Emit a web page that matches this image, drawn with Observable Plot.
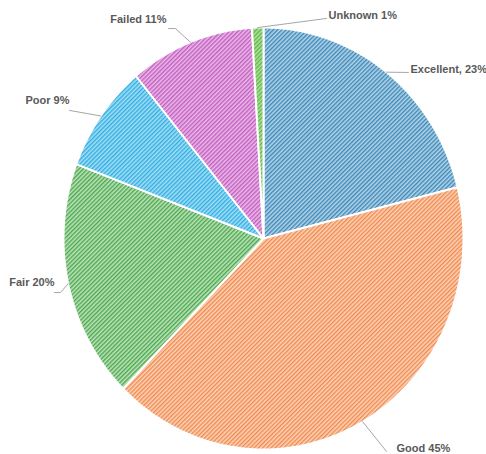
<!DOCTYPE html>
<html>
<head>
<meta charset="utf-8">
<script src="https://cdn.jsdelivr.net/npm/d3@7"></script>
<script src="https://cdn.jsdelivr.net/npm/@observablehq/plot@0.6"></script>
<style>
  html, body { margin: 0; padding: 0; background: #fff; }
  #chart svg { display: block; }
</style>
</head>
<body>
<div id="chart"></div>
<script>
// ---- data ----
const categories = ["Excellent", "Good", "Fair", "Poor", "Failed", "Unknown"];
const values = [23, 45, 20, 9, 11, 1];
const labels = ["Excellent, 23%", "Good 45%", "Fair 20%", "Poor 9%", "Failed 11%", "Unknown 1%"];

// ---- styles ----
const baseColors   = ["#b2d6ea", "#fcd3b8", "#bde4bd", "#a6def5", "#ecb9e8", "#b4e0a0"];
const stripeColors = ["#3f86b6", "#f08a50", "#4ca64c", "#2eaee3", "#c05ec0", "#5cb845"];

// label layout in data units (pie radius = 1), leader-line bends and text anchors
const leaderBends = [
  [[0.725, 0.787]],
  [[0.615, -1.009]],
  [[-1.015, -0.256], [-1.045, -0.256]],
  [[-0.97, 0.607]],
  [[-0.44, 0.995], [-0.475, 0.995]],
  [[0.315, 1.043]]
];
const labelPos = [
  {x: 0.735, y: 0.801, anchor: "start"},
  {x: 0.665, y: -0.995, anchor: "start"},
  {x: -1.045, y: -0.209, anchor: "end"},
  {x: -0.97, y: 0.654, anchor: "end"},
  {x: -0.485, y: 1.038, anchor: "end"},
  {x: 0.325, y: 1.057, anchor: "start"}
];

// ---- geometry from data ----
const arcs = d3.pie().sort(null).value(d => d)(values);
const sliceRows = [];
arcs.forEach((a, i) => {
  const key = categories[i];
  const fill = `url(#hatch-${i})`;
  sliceRows.push({key, x: 0, y: 0, fill});
  const n = Math.max(2, Math.ceil((a.endAngle - a.startAngle) / (Math.PI / 360)));
  for (let k = 0; k <= n; k++) {
    const t = a.startAngle + (a.endAngle - a.startAngle) * k / n;
    sliceRows.push({key, x: Math.sin(t), y: Math.cos(t), fill});
  }
  sliceRows.push({key, x: 0, y: 0, fill});
});

const leaderRows = [];
arcs.forEach((a, i) => {
  const m = (a.startAngle + a.endAngle) / 2;
  leaderRows.push({key: categories[i], x: Math.sin(m), y: Math.cos(m)});
  leaderBends[i].forEach(([x, y]) => leaderRows.push({key: categories[i], x, y}));
});

const labelRows = labels.map((text, i) => ({text, ...labelPos[i]}));

const font = "'Liberation Sans', Arial, sans-serif";

const svg = Plot.plot({
  width: 486,
  height: 454,
  marginLeft: 63,
  marginRight: 23,
  marginTop: 27,
  marginBottom: 5,
  x: {domain: [-1, 1], axis: null},
  y: {domain: [-1, 1], axis: null},
  color: {type: "identity"},
  style: {background: "#fff", fontFamily: font},
  marks: [
    Plot.line(sliceRows, {x: "x", y: "y", z: "key", fill: "fill", stroke: "#fff", strokeWidth: 2, strokeLinejoin: "round"}),
    Plot.line(leaderRows, {x: "x", y: "y", z: "key", stroke: "#a6a6a6", strokeWidth: 1}),
    Plot.text(labelRows.filter(d => d.anchor === "start"), {x: "x", y: "y", text: "text", textAnchor: "start", fill: "#595959", fontSize: 11, fontWeight: "bold"}),
    Plot.text(labelRows.filter(d => d.anchor === "end"), {x: "x", y: "y", text: "text", textAnchor: "end", fill: "#595959", fontSize: 11, fontWeight: "bold"})
  ]
});

const defs = d3.select(svg).insert("defs", ":first-child");
categories.forEach((c, i) => {
  const p = defs.append("pattern")
    .attr("id", `hatch-${i}`)
    .attr("patternUnits", "userSpaceOnUse")
    .attr("width", 3)
    .attr("height", 3)
    .attr("patternTransform", "rotate(45)");
  p.append("rect").attr("width", 3).attr("height", 3).attr("fill", baseColors[i]);
  p.append("rect").attr("width", 1.4).attr("height", 3).attr("fill", stripeColors[i]);
});

document.getElementById("chart").appendChild(svg);
</script>
</body>
</html>
